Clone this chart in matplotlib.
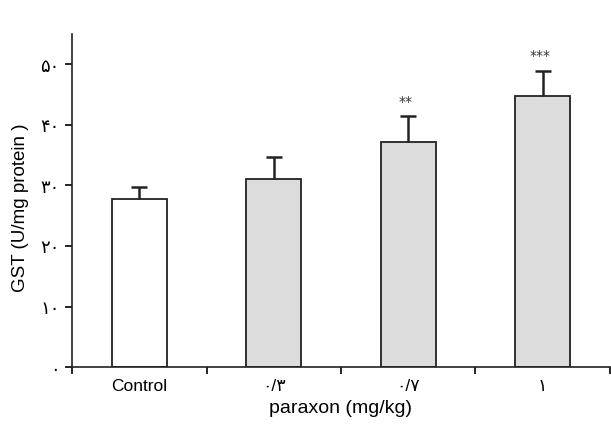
import matplotlib
matplotlib.use("Agg")
from matplotlib import pyplot as plt

# GST activity vs paraxon dose
groups = ["Control", "۰/۳", "۰/۷", "۱"]
gst_mean = [27.7, 31.0, 37.1, 44.8]
gst_err = [2.0, 3.7, 4.3, 4.1]
stars = ["", "", "**", "***"]
ytick_vals = [0, 10, 20, 30, 40, 50]
ytick_labels = ["۰", "۱۰", "۲۰", "۳۰", "۴۰", "۵۰"]
bar_colors = ["white", "#dcdcdc", "#dcdcdc", "#dcdcdc"]

plt.rcParams["font.family"] = ["Liberation Sans", "DejaVu Sans"]

fig = plt.figure(figsize=(6.11, 4.27), dpi=100)
ax = fig.add_axes([0.118, 0.138, 0.880, 0.780])

pos = list(range(len(groups)))
ax.bar(pos, gst_mean, width=0.41, color=bar_colors, edgecolor="#222222", linewidth=1.3, zorder=2)
eb = ax.errorbar(pos, gst_mean, yerr=[[0] * len(gst_err), gst_err], fmt="none",
                 ecolor="#222222", elinewidth=1.8, capsize=6, capthick=1.8, zorder=3)
# one-sided bars: hide the cap at the bar top
eb[1][0].set_visible(False)

for i in pos:
    if stars[i]:
        ax.text(i - 0.02, gst_mean[i] + gst_err[i] + 2.6, stars[i], ha="center", va="center",
                fontsize=10, color="#333333", family="DejaVu Sans")

ax.set_xlim(-0.5, 3.5)
ax.set_ylim(0, 55)
ax.set_xticks([p - 0.5 for p in pos] + [3.5])
ax.set_xticklabels([])
ax.set_xticks(pos, minor=True)
ax.set_xticklabels(groups, minor=True, fontsize=12.5)
ax.tick_params(axis="x", which="minor", length=0, pad=8)
ax.tick_params(axis="x", which="major", length=5, width=1.2, direction="out")

ax.set_yticks(ytick_vals)
ax.set_yticklabels(ytick_labels, fontsize=13)
ax.tick_params(axis="y", length=5, width=1.2, direction="out", pad=4)

for side in ["top", "right"]:
    ax.spines[side].set_visible(False)
for side in ["left", "bottom"]:
    ax.spines[side].set_linewidth(1.2)
    ax.spines[side].set_color("#222222")

ax.set_xlabel("paraxon (mg/kg)", fontsize=14, labelpad=4)
ax.set_ylabel("GST (U/mg protein )", fontsize=13.5)
ax.yaxis.set_label_coords(-0.080, 0.482)

fig.savefig("out.png", dpi=100)
